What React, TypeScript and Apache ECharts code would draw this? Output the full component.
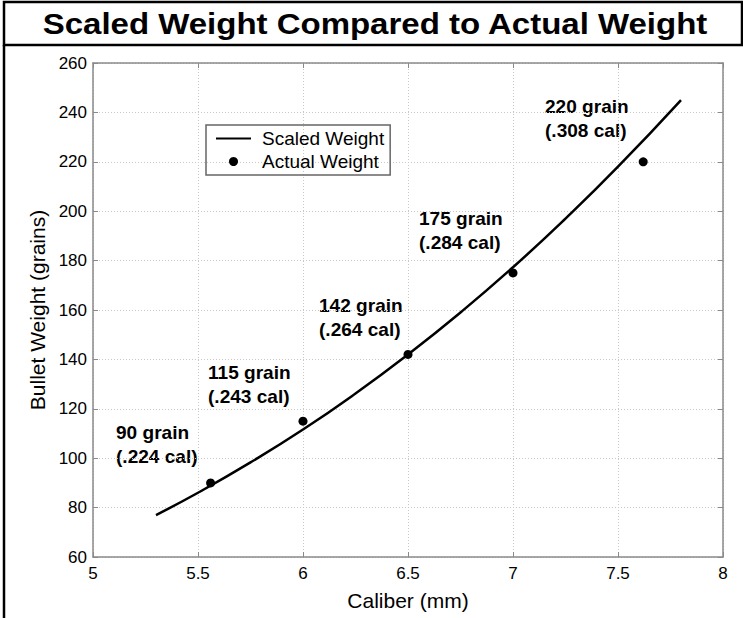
import React, { useEffect, useRef } from "react";
import * as echarts from "echarts";

const titleText = "Scaled Weight Compared to Actual Weight";
const xTicks = [5, 5.5, 6, 6.5, 7, 7.5, 8];
const yTicks = [60, 80, 100, 120, 140, 160, 180, 200, 220, 240, 260];

// Scaled weight curve
const scaledCaliber = [5.3, 5.5, 5.75, 6.0, 6.25, 6.5, 6.75, 7.0, 7.25, 7.5, 7.8];
const scaledWeight = [77, 86, 98.3, 111.6, 126.2, 142, 159, 177.3, 197, 218, 245];

// Actual weights
const actualCaliber = [5.56, 6.0, 6.5, 7.0, 7.62];
const actualWeight = [90, 115, 142, 175, 220];

const annotations = [
  { lines: ["90 grain", "(.224 cal)"], left: 116, top: 421 },
  { lines: ["115 grain", "(.243 cal)"], left: 208, top: 361 },
  { lines: ["142 grain", "(.264 cal)"], left: 319, top: 294 },
  { lines: ["175 grain", "(.284 cal)"], left: 419, top: 207 },
  { lines: ["220 grain", "(.308 cal)"], left: 545, top: 95 },
];

export default function App() {
  const ref = useRef<HTMLDivElement>(null);
  useEffect(() => {
    if (!ref.current) return;
    const chart = echarts.init(ref.current, undefined, { renderer: "svg" });
    const font = "Liberation Sans, Arial, Helvetica, sans-serif";
    const frame = { show: true, lineStyle: { color: "#8a8a8a", width: 1.5 } };
    const tick = { show: true, inside: true, length: 5, lineStyle: { color: "#8a8a8a", width: 1 } };
    const split = { show: true, lineStyle: { color: "#c8c8c8", type: [1, 2] as any, width: 1 } };
    const grid = { left: 93, top: 63, right: 20, bottom: 61 };
    chart.setOption({
      animation: false,
      backgroundColor: "#ffffff",
      grid,
      legend: {
        orient: "vertical",
        left: 206,
        top: 125,
        borderColor: "#666",
        borderWidth: 1.5,
        borderRadius: 0,
        padding: [4, 6, 4, 10],
        itemWidth: 35,
        itemHeight: 9,
        itemGap: 4,
        textStyle: { fontFamily: font, fontSize: 19, color: "#000", padding: [0, 0, 0, 6] },
        data: [
          { name: "Scaled Weight", icon: "path://M0,4 L35,4 L35,6 L0,6 Z" },
          { name: "Actual Weight", icon: "circle" },
        ],
      },
      xAxis: [
        {
          type: "value",
          min: 5,
          max: 8,
          interval: 0.5,
          axisLine: frame,
          axisTick: tick,
          splitLine: split,
          axisLabel: {
            margin: 8,
            fontFamily: font,
            fontSize: 17,
            color: "#000",
            formatter: (v: number) => (xTicks.includes(v) ? String(v) : ""),
          },
          name: "Caliber (mm)",
          nameLocation: "middle",
          nameGap: 33,
          nameTextStyle: { fontFamily: font, fontSize: 21, color: "#000" },
        },
        {
          type: "value",
          position: "top",
          min: 5,
          max: 8,
          interval: 0.5,
          axisLine: frame,
          axisTick: tick,
          splitLine: { show: false },
          axisLabel: { show: false },
        },
      ],
      yAxis: [
        {
          type: "value",
          min: 60,
          max: 260,
          interval: 20,
          axisLine: frame,
          axisTick: tick,
          splitLine: split,
          axisLabel: {
            margin: 6,
            fontFamily: font,
            fontSize: 17,
            color: "#000",
            formatter: (v: number) => (yTicks.includes(v) ? String(v) : ""),
          },
          name: "Bullet Weight (grains)",
          nameLocation: "middle",
          nameGap: 38,
          nameTextStyle: { fontFamily: font, fontSize: 21, color: "#000" },
        },
        {
          type: "value",
          position: "right",
          min: 60,
          max: 260,
          interval: 20,
          axisLine: frame,
          axisTick: tick,
          splitLine: { show: false },
          axisLabel: { show: false },
        },
      ],
      series: [
        {
          name: "Scaled Weight",
          type: "line",
          smooth: true,
          symbol: "none",
          lineStyle: { color: "#000", width: 2.5 },
          itemStyle: { color: "#000" },
          data: scaledCaliber.map((c, i) => [c, scaledWeight[i]]),
          z: 3,
        },
        {
          name: "Actual Weight",
          type: "scatter",
          symbol: "circle",
          symbolSize: 9,
          itemStyle: { color: "#000", opacity: 1 },
          data: actualCaliber.map((c, i) => [c, actualWeight[i]]),
          z: 4,
        },
      ],
      graphic: [
        {
          type: "rect",
          shape: { x: 4, y: 2, width: 738, height: 43 },
          style: { fill: "none", stroke: "#000", lineWidth: 2.5 },
        },
        {
          type: "line",
          shape: { x1: 4, y1: 45, x2: 4, y2: 620 },
          style: { stroke: "#000", lineWidth: 2.5 },
        },
        {
          type: "text",
          x: 375,
          y: 24,
          scaleX: 1.1,
          style: {
            text: titleText,
            fontFamily: font,
            fontWeight: "bold",
            fontSize: 30,
            fill: "#000",
            align: "center",
            verticalAlign: "middle",
          },
        },
        ...annotations.map((a) => ({
          type: "text",
          x: a.left,
          y: a.top,
          scaleX: 1.06,
          style: {
            text: a.lines.join("\n"),
            fontFamily: font,
            fontWeight: "bold",
            fontSize: 18,
            lineHeight: 24,
            fill: "#000",
            align: "left",
            verticalAlign: "top",
          },
        })),
      ],
    });
    return () => chart.dispose();
  }, []);
  return (
    <div
      ref={ref}
      style={{ position: "fixed", left: 0, top: 0, width: 743, height: 618 }}
    />
  );
}
